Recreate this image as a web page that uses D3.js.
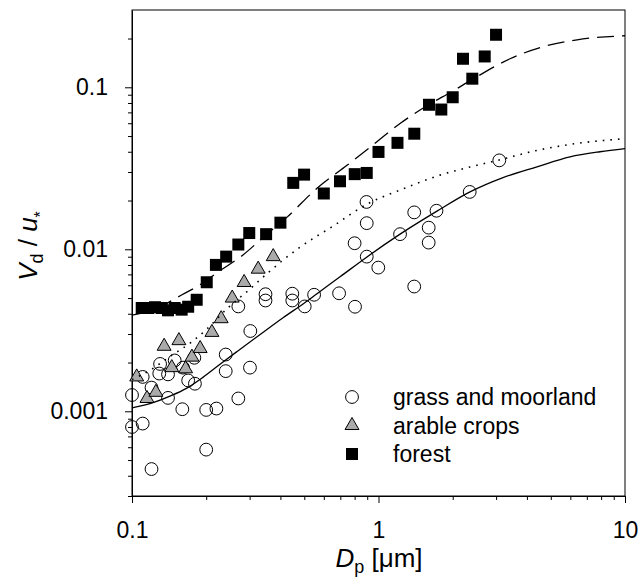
<!DOCTYPE html>
<html lang="en">
<head>
<meta charset="UTF-8">
<title>Vd / u* against particle diameter</title>
<script src="https://cdn.jsdelivr.net/npm/d3@7"></script>
<style>
  body { margin: 0; background: #fff; }
  svg { display: block; font-family: "Liberation Sans", Arial, sans-serif; }
  .tick text { font-size: 23px; fill: #000; font-family: "Liberation Sans", Arial, sans-serif; }
  .tick line, .domain { stroke: #000; }
</style>
</head>
<body>
<svg id="chart" width="640" height="588"></svg>
<script>
// measured points, [Dp (µm), Vd/u*]
const grass = [
  [0.100, 0.00126], [0.100, 0.00080], [0.1105, 0.00084], [0.1105, 0.00163],
  [0.120, 0.00044], [0.120, 0.00140], [0.130, 0.00196], [0.129, 0.00171],
  [0.140, 0.00169], [0.149, 0.00206], [0.140, 0.00121], [0.160, 0.00103],
  [0.161, 0.00186], [0.169, 0.00155], [0.179, 0.00214], [0.180, 0.00148],
  [0.200, 0.00102], [0.220, 0.00104], [0.200, 0.00058], [0.240, 0.00224],
  [0.240, 0.00177], [0.270, 0.00120], [0.270, 0.00444], [0.301, 0.00186],
  [0.302, 0.00313], [0.348, 0.00528], [0.348, 0.00483], [0.447, 0.00532],
  [0.447, 0.00483], [0.502, 0.00444], [0.548, 0.00524], [0.692, 0.00535],
  [0.803, 0.00442], [0.800, 0.0109], [0.896, 0.00901], [0.998, 0.00771],
  [0.894, 0.0196], [0.896, 0.0145], [1.223, 0.0124], [1.396, 0.0169],
  [1.598, 0.0136], [1.598, 0.0110], [1.719, 0.0173], [1.396, 0.00589],
  [2.344, 0.0226], [3.090, 0.0354]
];

const arable = [
  [0.1045, 0.00163], [0.115, 0.00120], [0.125, 0.00131], [0.135, 0.00252],
  [0.155, 0.00273], [0.145, 0.00186], [0.165, 0.00183], [0.175, 0.00216],
  [0.189, 0.00244], [0.211, 0.00307], [0.230, 0.00373], [0.255, 0.00500],
  [0.285, 0.00624], [0.325, 0.00754], [0.374, 0.00901]
];

const forest = [
  [0.1095, 0.00434], [0.1164, 0.00434], [0.124, 0.00439], [0.132, 0.00434],
  [0.140, 0.00420], [0.149, 0.00434], [0.159, 0.00424], [0.169, 0.00442],
  [0.183, 0.00488], [0.201, 0.00626], [0.219, 0.00801], [0.241, 0.00901],
  [0.270, 0.0107], [0.299, 0.0126], [0.350, 0.0124], [0.400, 0.0146],
  [0.451, 0.0257], [0.499, 0.0289], [0.600, 0.0221], [0.698, 0.0263],
  [0.801, 0.0291], [0.896, 0.0296], [1.000, 0.0399], [1.194, 0.0454],
  [1.397, 0.0517], [1.603, 0.0780], [1.798, 0.0729], [2.000, 0.0868],
  [2.202, 0.150], [2.402, 0.113], [2.697, 0.155], [2.998, 0.211]
];

// fitted curves
const grassFit = [
  [0.100, 0.00105], [0.1217, 0.00113], [0.1426, 0.00124], [0.167, 0.00139],
  [0.194, 0.00162], [0.2275, 0.00195], [0.267, 0.00234], [0.331, 0.00298],
  [0.410, 0.00378], [0.499, 0.00465], [0.563, 0.00532], [0.698, 0.00676],
  [0.898, 0.00897], [1.223, 0.0124], [1.727, 0.0172], [2.350, 0.0226],
  [3.200, 0.0277], [4.395, 0.0323], [5.983, 0.0372], [7.917, 0.0400],
  [10, 0.0418]
];

const arableFit = [
  [0.100, 0.00157], [0.1183, 0.00179], [0.1426, 0.00218], [0.1735, 0.00266],
  [0.200, 0.00319], [0.243, 0.00430], [0.2955, 0.00555], [0.356, 0.00716],
  [0.480, 0.0103], [0.654, 0.0139], [0.898, 0.0190], [1.223, 0.0232],
  [1.776, 0.0287], [2.350, 0.0322], [3.111, 0.0357], [4.395, 0.0408],
  [5.983, 0.0444], [10, 0.0482]
];

const forestFit = [
  [0.100, 0.00392], [0.1183, 0.00418], [0.1387, 0.00465], [0.1595, 0.00524],
  [0.1888, 0.00604], [0.221, 0.00716], [0.282, 0.00923], [0.346, 0.0121],
  [0.4255, 0.0158], [0.563, 0.0238], [0.745, 0.0330], [0.924, 0.0426],
  [1.223, 0.0598], [1.603, 0.0783], [1.987, 0.0941], [2.395, 0.1115],
  [3.416, 0.150], [4.649, 0.178], [6.388, 0.1965], [10, 0.208]
];

const legendLabels = ["grass and moorland", "arable crops", "forest"];

const xMajor = [0.1, 1, 10];
const xMinor = [0.2, 0.3, 0.4, 0.5, 0.6, 0.7, 0.8, 0.9, 2, 3, 4, 5, 6, 7, 8, 9];
const yMajor = [0.001, 0.01, 0.1];
const yMinor = [0.0003, 0.0004, 0.0005, 0.0006, 0.0007, 0.0008, 0.0009,
  0.002, 0.003, 0.004, 0.005, 0.006, 0.007, 0.008, 0.009,
  0.02, 0.03, 0.04, 0.05, 0.06, 0.07, 0.08, 0.09, 0.2];

const plotLeft = 132, plotRight = 625, plotTop = 10, plotBottom = 496;

const svg = d3.select("#chart");
svg.append("rect").attr("width", 640).attr("height", 588).attr("fill", "#fff");

const x = d3.scaleLog().domain([0.1, 10]).range([plotLeft, plotRight]);
const y = d3.scaleLog().domain([0.0003, 0.3]).range([plotBottom, plotTop]);

// axes
svg.append("g")
  .attr("transform", "translate(0," + plotBottom + ")")
  .call(d3.axisBottom(x).tickValues(xMinor).tickSize(4).tickFormat(""))
  .call(g => g.select(".domain").remove());
svg.append("g")
  .attr("transform", "translate(0," + plotBottom + ")")
  .call(d3.axisBottom(x).tickValues(xMajor).tickSizeInner(7).tickSizeOuter(0)
    .tickPadding(19).tickFormat(d3.format("")));

svg.append("g")
  .attr("transform", "translate(" + plotLeft + ",0)")
  .call(d3.axisLeft(y).tickValues(yMinor).tickSize(4).tickFormat(""))
  .call(g => g.select(".domain").remove());
svg.append("g")
  .attr("transform", "translate(" + plotLeft + ",0)")
  .call(d3.axisLeft(y).tickValues(yMajor).tickSizeInner(7).tickSizeOuter(0)
    .tickPadding(17).tickFormat(d3.format("")));

// frame
svg.append("rect")
  .attr("x", plotLeft).attr("y", plotTop)
  .attr("width", plotRight - plotLeft).attr("height", plotBottom - plotTop)
  .attr("fill", "none").attr("stroke", "#000").attr("stroke-width", 1);

const sym = {
  circle: d3.symbol().type(d3.symbolCircle).size(Math.PI * 6.4 * 6.4),
  triangle: d3.symbol().type(d3.symbolTriangle).size(84),
  square: d3.symbol().type(d3.symbolSquare).size(144)
};

// points
svg.append("g").selectAll("path")
  .data(grass).enter().append("path")
  .attr("d", sym.circle())
  .attr("transform", d => "translate(" + x(d[0]) + "," + y(d[1]) + ")")
  .attr("fill", "none").attr("stroke", "#000").attr("stroke-width", 1);

svg.append("g").selectAll("path")
  .data(arable).enter().append("path")
  .attr("d", sym.triangle())
  .attr("transform", d => "translate(" + x(d[0]) + "," + y(d[1]) + ")")
  .attr("fill", "#aaaaaa").attr("stroke", "#000").attr("stroke-width", 1);

svg.append("g").selectAll("path")
  .data(forest).enter().append("path")
  .attr("d", sym.square())
  .attr("transform", d => "translate(" + x(d[0]) + "," + y(d[1]) + ")")
  .attr("fill", "#000");

// fitted lines
const line = d3.line()
  .x(d => x(d[0]))
  .y(d => y(d[1]))
  .curve(d3.curveMonotoneX);

svg.append("path").datum(grassFit)
  .attr("d", line).attr("fill", "none")
  .attr("stroke", "#000").attr("stroke-width", 1.3);

svg.append("path").datum(arableFit)
  .attr("d", line).attr("fill", "none")
  .attr("stroke", "#000").attr("stroke-width", 1.6)
  .attr("stroke-dasharray", "1.6,6");

svg.append("path").datum(forestFit)
  .attr("d", line).attr("fill", "none")
  .attr("stroke", "#000").attr("stroke-width", 1.3)
  .attr("stroke-dasharray", "17,8");

// legend
const legend = svg.append("g");
const legendSym = [sym.circle, sym.triangle, sym.square];
const legendFill = ["none", "#aaaaaa", "#000"];
legendLabels.forEach((label, i) => {
  const cy = 397 + i * 28.5;
  legend.append("path")
    .attr("d", legendSym[i]())
    .attr("transform", "translate(352," + cy + ")")
    .attr("fill", legendFill[i])
    .attr("stroke", i === 2 ? "none" : "#000");
  legend.append("text")
    .attr("x", 393).attr("y", cy + 8)
    .attr("font-size", 23)
    .text(label);
});

// axis titles
const xt = svg.append("text")
  .attr("x", 379).attr("y", 567)
  .attr("text-anchor", "middle")
  .attr("font-size", 26);
xt.append("tspan").attr("font-style", "italic").text("D");
xt.append("tspan").attr("font-size", 18).attr("dy", 6).text("p");
xt.append("tspan").attr("dy", -6).text(" [μm]");

const yt = svg.append("text")
  .attr("transform", "translate(37,246) rotate(-90)")
  .attr("text-anchor", "middle")
  .attr("font-size", 26);
yt.append("tspan").attr("font-style", "italic").text("V");
yt.append("tspan").attr("font-size", 18).attr("dy", 6).text("d");
yt.append("tspan").attr("dy", -6).text(" / ");
yt.append("tspan").attr("font-style", "italic").text("u");
yt.append("tspan").attr("font-size", 16).attr("dy", 9).text("*");
</script>
</body>
</html>
